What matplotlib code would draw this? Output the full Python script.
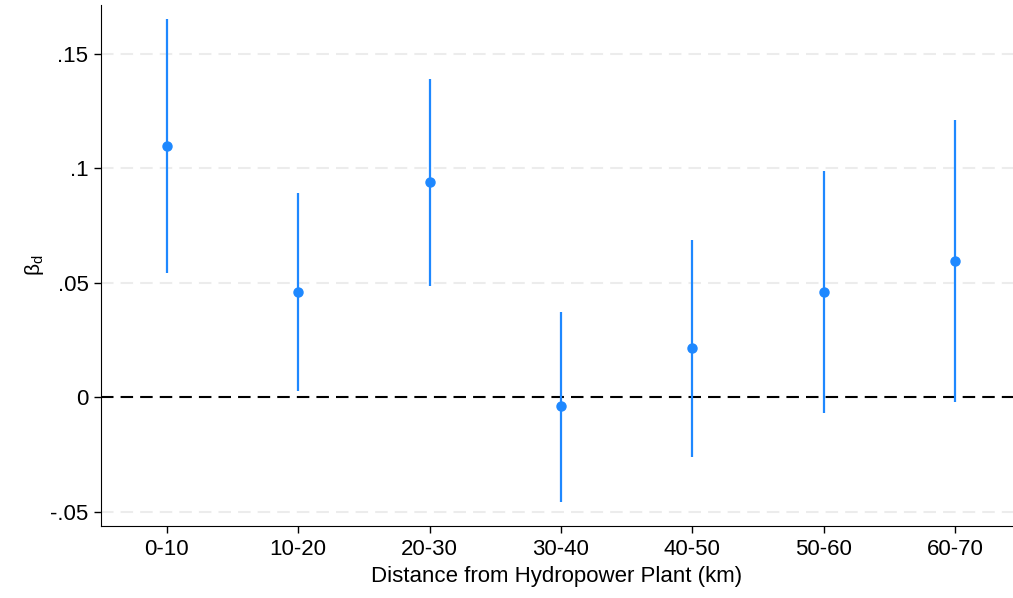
import numpy as np
import matplotlib.pyplot as plt

plt.rcParams['font.family'] = ['Liberation Sans', 'DejaVu Sans']

categories = ["0-10", "10-20", "20-30", "30-40", "40-50", "50-60", "60-70"]
estimates = [0.1096, 0.0459, 0.0939, -0.0039, 0.0214, 0.0459, 0.0594]
ci_low = [0.0541, 0.0026, 0.0485, -0.0459, -0.0262, -0.0070, -0.0022]
ci_high = [0.1650, 0.0891, 0.1389, 0.0371, 0.0686, 0.0987, 0.1210]

blue = "#1e88ff"

fig = plt.figure(figsize=(10.13, 5.98), dpi=100)
ax = fig.add_axes([0.0997, 0.1204, 0.9003, 0.8712])

x = np.arange(1, len(categories) + 1)
ax.vlines(x, ci_low, ci_high, color=blue, lw=1.6, zorder=3)
ax.plot(x, estimates, "o", color=blue, ms=6.5, zorder=4)
ax.axhline(0, color="black", lw=1.5, ls=(0, (6, 3.4)), zorder=2)

yticks = [-0.05, 0, 0.05, 0.1, 0.15]
for yt in yticks:
    if yt != 0:
        ax.axhline(yt, color="#ececec", lw=1.5, ls=(0, (6, 3.4)), zorder=1)
ax.set_yticks(yticks)
ax.set_yticklabels(["-.05", "0", ".05", ".1", ".15"])
ax.set_xticks(x)
ax.set_xticklabels(categories)
ax.set_xlim(0.5, 7.44)
ax.set_ylim(-0.0563, 0.1712)

for s in ["top", "right"]:
    ax.spines[s].set_visible(False)
ax.tick_params(labelsize=16, length=5, width=1, pad=4)
ax.set_xlabel("Distance from Hydropower Plant (km)", fontsize=16, labelpad=5)
ax.set_ylabel(r"$\mathregular{\beta_d}$", fontsize=15, labelpad=3)

fig.savefig("out.png", dpi=100)
